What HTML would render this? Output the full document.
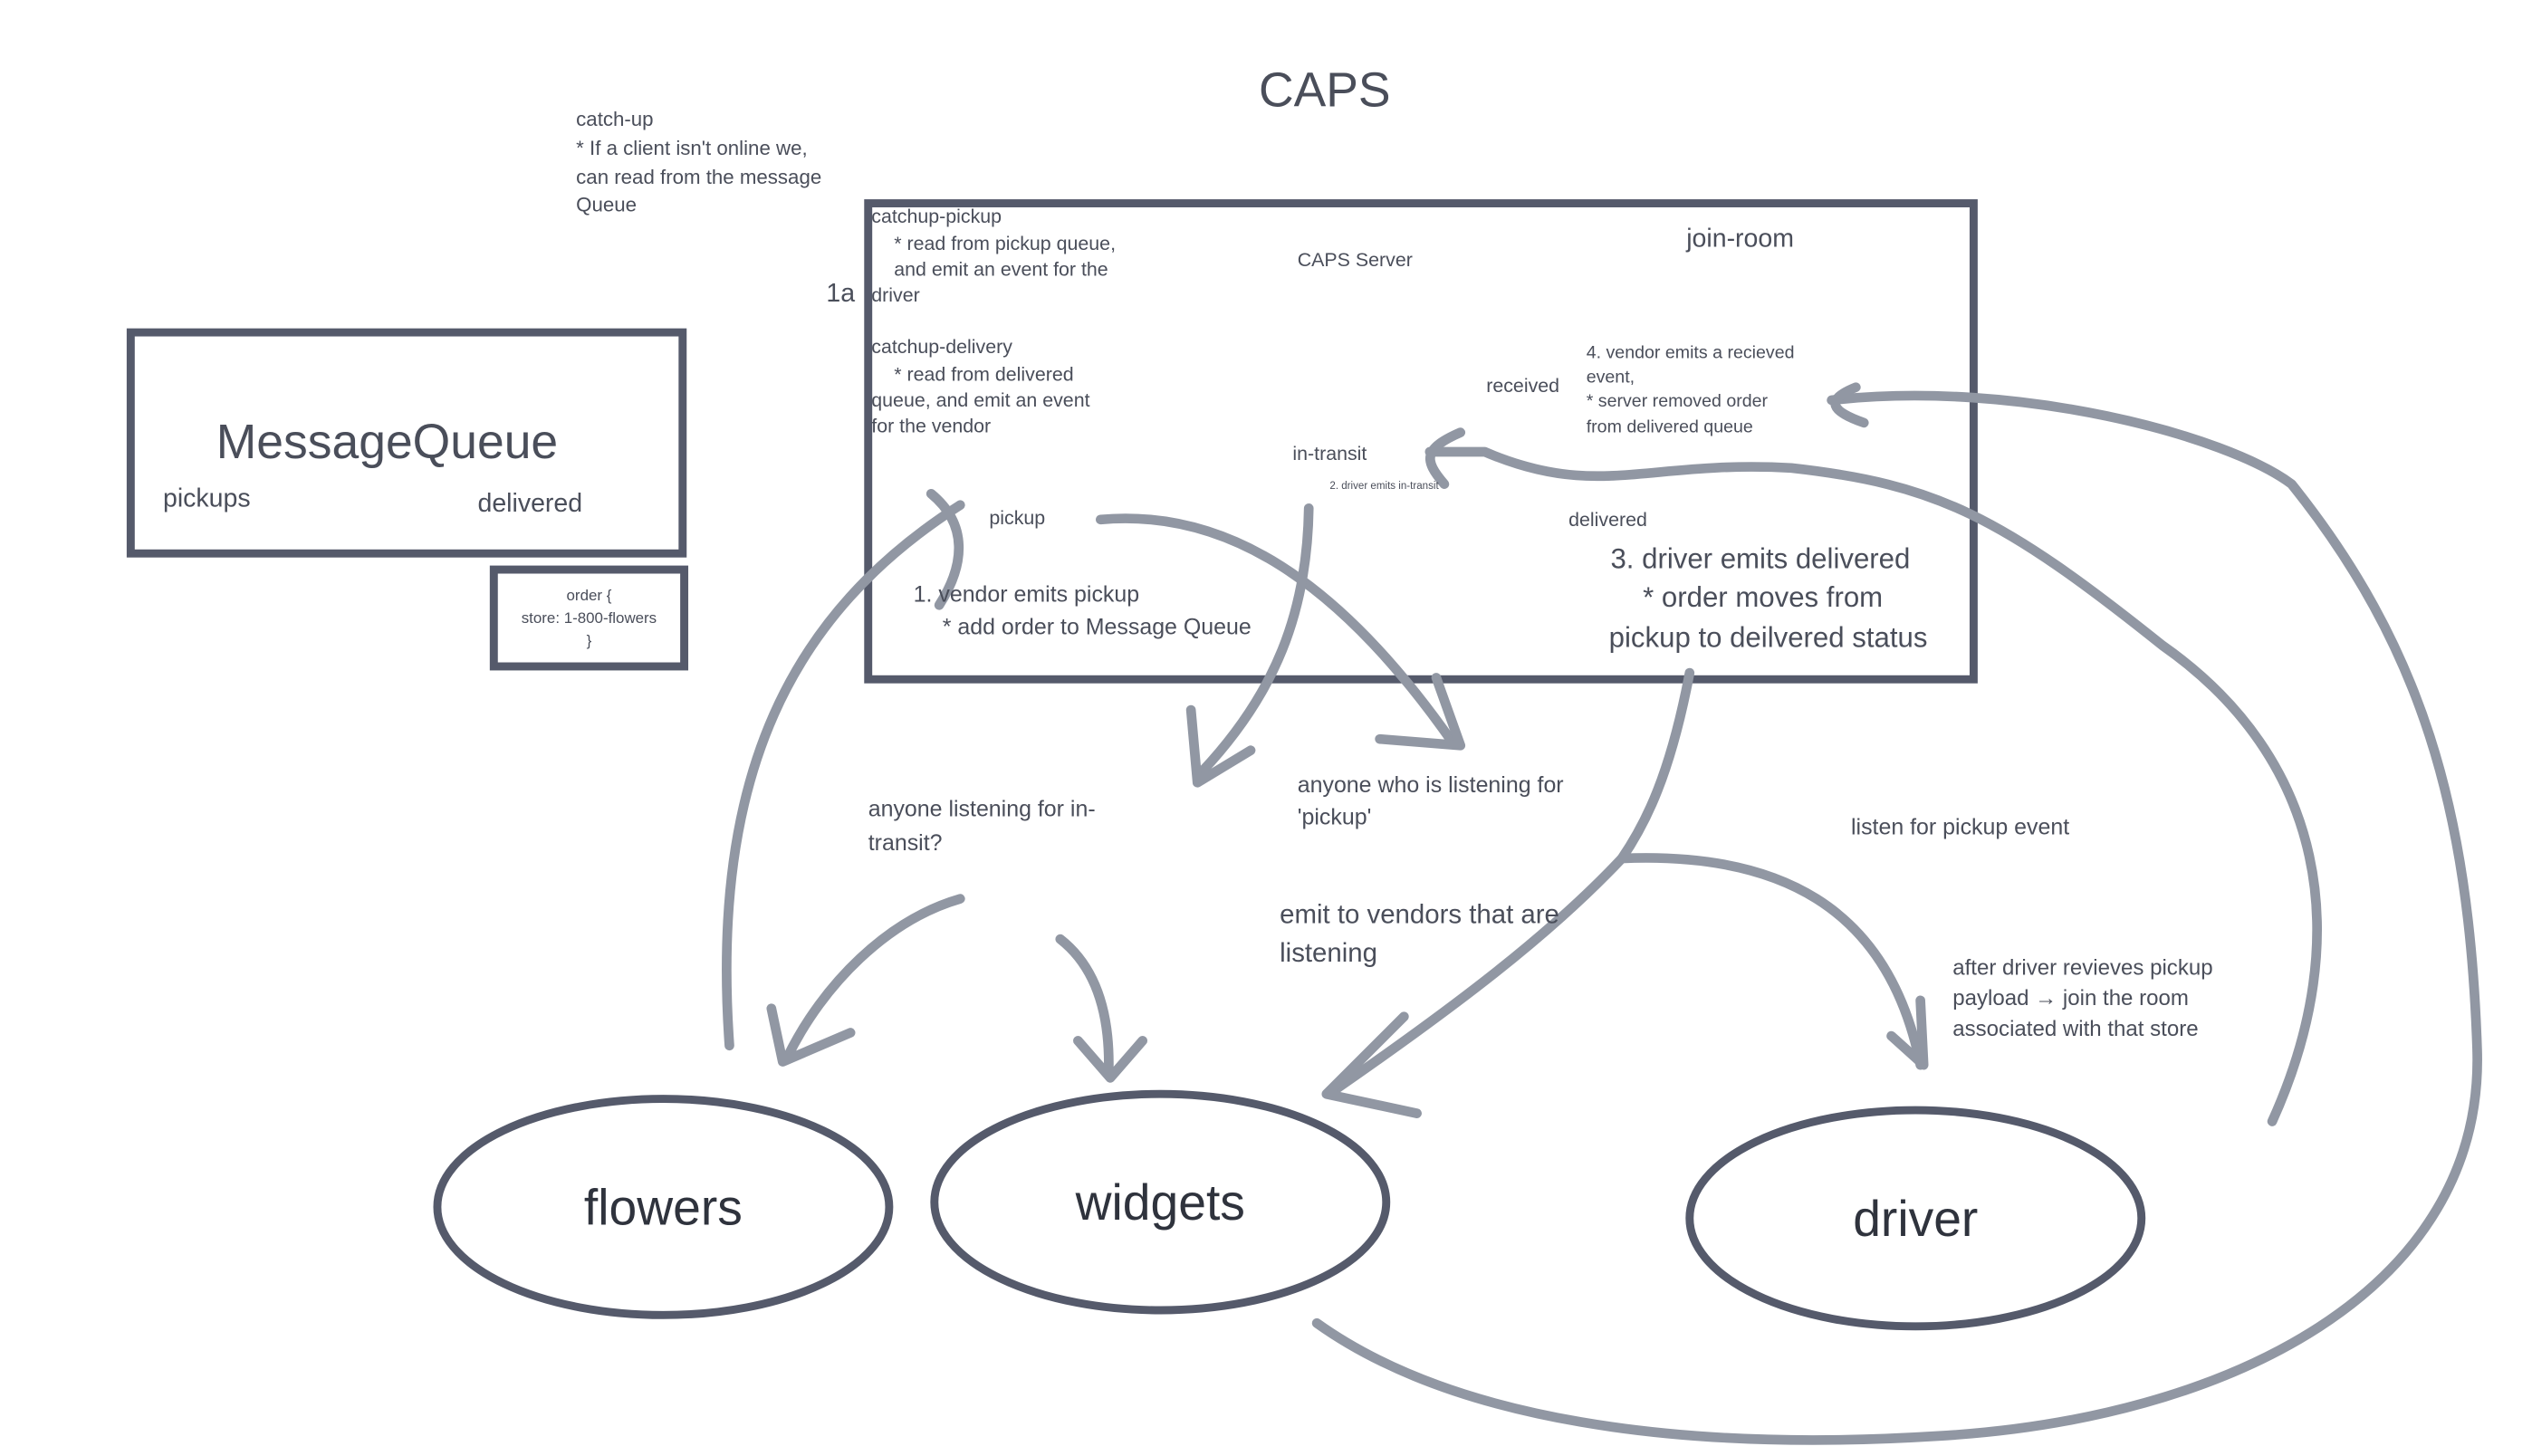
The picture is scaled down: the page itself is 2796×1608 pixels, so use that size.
<!DOCTYPE html>
<html><head><meta charset="utf-8"><style>
html,body{margin:0;padding:0;background:#fff;}
svg{display:block;}
text{font-family:"Liberation Sans",sans-serif;fill:#4a4e5a;}
</style></head><body>
<svg width="2796" height="1608" viewBox="0 0 1569 902" preserveAspectRatio="xMinYMin meet" xmlns="http://www.w3.org/2000/svg">
<g fill="none" stroke="#555a6b" stroke-width="5">
<rect x="81" y="206" width="342" height="137"/>
<rect x="306" y="353" width="118" height="60"/>
<rect x="538" y="126" width="685" height="295"/>
<ellipse cx="411" cy="748" rx="140" ry="67"/>
<ellipse cx="719" cy="745" rx="140" ry="67"/>
<ellipse cx="1187" cy="755" rx="140" ry="67"/>
</g>
<g fill="none" stroke="#9197a3" stroke-width="6" stroke-linecap="round" stroke-linejoin="round">
<path d="M452 648 C440 480 490 380 595 313"/>
<path d="M577 306 C600 325 598 350 582 375"/>
<path d="M682 322 C760 315 830 360 900 460"/>
<path d="M855 458 L905 462 L890 420"/>
<path d="M811 315 C810 380 790 430 745 478"/>
<path d="M738 440 L742 485 L775 465"/>
<path d="M595 557 C550 570 510 610 488 655"/>
<path d="M478 625 L485 658 L527 640"/>
<path d="M657 582 C680 600 688 630 687 665"/>
<path d="M668 645 L688 668 L708 645"/>
<path d="M1047 417 C1035 480 1020 510 1005 532 C1100 528 1170 560 1190 660"/>
<path d="M1172 642 L1192 660 L1190 620"/>
<path d="M1005 532 C960 580 900 625 825 677"/>
<path d="M870 630 L822 678 L878 690"/>
<path d="M1408 695 C1460 580 1440 470 1340 400 C1240 320 1200 300 1110 290 C1020 285 990 310 920 280 L886 280"/>
<path d="M905 268 C882 278 882 285 895 300"/>
<path d="M816 820 C900 880 1040 900 1200 890 C1380 880 1540 800 1535 650 C1530 500 1500 400 1420 300 C1380 270 1250 235 1135 248"/>
<path d="M1150 240 C1130 248 1135 255 1155 262"/>
</g>
<text x="780" y="66" font-size="30">CAPS</text>
<g font-size="12.5">
<text x="357" y="78">catch-up</text>
<text x="357" y="96">* If a client isn't online we,</text>
<text x="357" y="114">can read from the message</text>
<text x="357" y="131">Queue</text>
</g>
<text x="512" y="187" font-size="16">1a</text>
<text x="134" y="284" font-size="30">MessageQueue</text>
<text x="101" y="314" font-size="16">pickups</text>
<text x="296" y="317" font-size="16">delivered</text>
<g font-size="9.5" text-anchor="middle">
<text x="365" y="372">order {</text>
<text x="365" y="386">store: 1-800-flowers</text>
<text x="365" y="400">}</text>
</g>
<g font-size="12">
<text x="540" y="138">catchup-pickup</text>
<text x="554" y="155">* read from pickup queue,</text>
<text x="554" y="171">and emit an event for the</text>
<text x="540" y="187">driver</text>
<text x="540" y="219">catchup-delivery</text>
<text x="554" y="236">* read from delivered</text>
<text x="540" y="252">queue, and emit an event</text>
<text x="540" y="268">for the vendor</text>
<text x="804" y="165">CAPS Server</text>
<text x="801" y="285">in-transit</text>
<text x="613" y="325">pickup</text>
<text x="921" y="243">received</text>
<text x="972" y="326">delivered</text>
</g>
<text x="1045" y="153" font-size="16">join-room</text>
<g font-size="11">
<text x="983" y="222">4. vendor emits a recieved</text>
<text x="983" y="237">event,</text>
<text x="983" y="252">*  server removed order</text>
<text x="983" y="268">from delivered queue</text>
</g>
<text x="824" y="303" font-size="6.5">2. driver emits in-transit</text>
<g font-size="14">
<text x="566" y="373">1. vendor emits pickup</text>
<text x="584" y="393">* add order to Message Queue</text>
</g>
<g font-size="17.5">
<text x="998" y="352">3. driver emits delivered</text>
<text x="1018" y="376">* order moves from</text>
<text x="997" y="401">pickup to deilvered status</text>
</g>
<g font-size="14">
<text x="538" y="506">anyone listening for in-</text>
<text x="538" y="527">transit?</text>
<text x="804" y="491">anyone who is listening for</text>
<text x="804" y="511">'pickup'</text>
<text x="1147" y="517">listen for pickup event</text>
</g>
<g font-size="16.5">
<text x="793" y="572">emit to vendors that are</text>
<text x="793" y="596">listening</text>
</g>
<g font-size="13.5">
<text x="1210" y="604">after driver revieves pickup</text>
<text x="1210" y="623">payload → join the room</text>
<text x="1210" y="642">associated with that store</text>
</g>
<g font-size="31">
<text x="411" y="759" text-anchor="middle" style="fill:#2f333d">flowers</text>
<text x="719" y="756" text-anchor="middle" style="fill:#2f333d">widgets</text>
<text x="1187" y="766" text-anchor="middle" style="fill:#2f333d">driver</text>
</g>
</svg>
</body></html>
